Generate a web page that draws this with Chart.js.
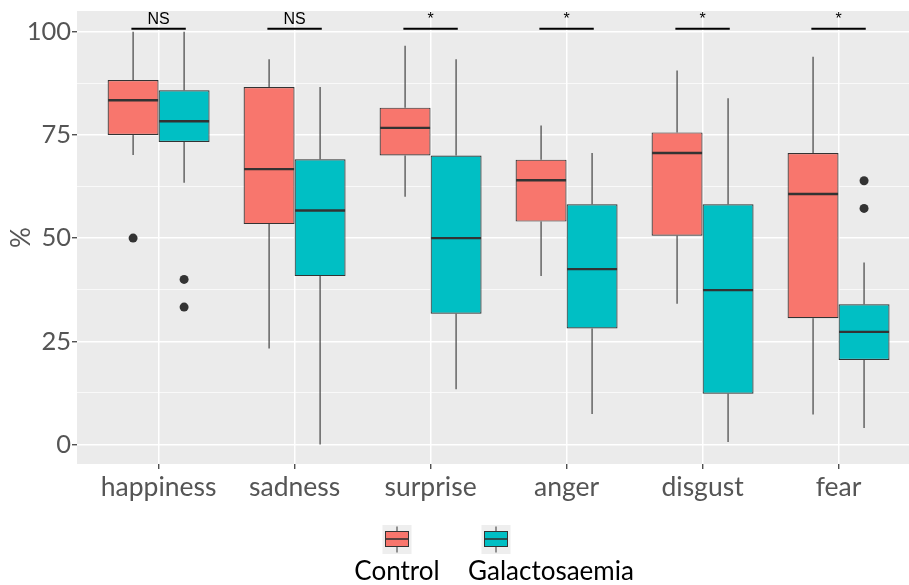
<!DOCTYPE html>
<html><head><meta charset="utf-8">
<script src="https://cdn.jsdelivr.net/npm/chart.js@4"></script>
<style>html,body{margin:0;padding:0;background:#fff;}canvas{display:block;}</style>
</head><body>
<canvas id="c" width="909" height="585"></canvas>
<script>
// ---- data ----
const categories = ['happiness', 'sadness', 'surprise', 'anger', 'disgust', 'fear'];
const seriesNames = ['Control', 'Galactosaemia'];
const seriesColors = ['#F8766D', '#00BFC4'];

const controlMin    = [70.1, 23.3, 60.0, 40.8, 34.1,  7.3];
const controlQ1     = [75.0, 53.4, 70.0, 54.0, 50.6, 30.6];
const controlMedian = [83.4, 66.7, 76.7, 64.0, 70.6, 60.7];
const controlQ3     = [88.3, 86.6, 81.6, 69.0, 75.6, 70.6];
const controlMax    = [100,  93.3, 96.6, 77.3, 90.6, 93.9];
const controlOutliers = [[50.0], [], [], [], [], []];

const galMin    = [63.4,  0.0, 13.4,  7.4,  0.6,  4.0];
const galQ1     = [73.3, 40.8, 31.7, 28.1, 12.3, 20.5];
const galMedian = [78.3, 56.7, 50.0, 42.5, 37.4, 27.3];
const galQ3     = [85.8, 69.1, 70.0, 58.2, 58.2, 34.0];
const galMax    = [100,  86.6, 93.3, 70.6, 83.9, 44.1];
const galOutliers = [[40.0, 33.3], [], [], [], [], [63.9, 57.2]];

const yTickValues = [0, 25, 50, 75, 100];
const sigLabels = ['NS', 'NS', '*', '*', '*', '*'];
const sigLevel = 100.7;

const series = [
  {min: controlMin, q1: controlQ1, med: controlMedian, q3: controlQ3, max: controlMax, out: controlOutliers},
  {min: galMin, q1: galQ1, med: galMedian, q3: galQ3, max: galMax, out: galOutliers}
];

const FONT = 'Lato, Carlito, "Open Sans", sans-serif';
const DARK = '#333333';

const bgPlugin = {
  id: 'panelBg',
  beforeDraw(chart) {
    const {ctx, chartArea: a} = chart;
    ctx.save();
    ctx.fillStyle = '#EBEBEB';
    ctx.fillRect(a.left, a.top, a.right - a.left, a.bottom - a.top);
    ctx.restore();
  }
};

const boxPlugin = {
  id: 'boxParts',
  beforeDatasetsDraw(chart) {
    const ctx = chart.ctx, ys = chart.scales.y;
    ctx.save();
    ctx.strokeStyle = DARK;
    ctx.lineWidth = 1.1;
    series.forEach((s, d) => {
      chart.getDatasetMeta(d).data.forEach((el, i) => {
        ctx.beginPath();
        ctx.moveTo(el.x, ys.getPixelForValue(s.max[i]));
        ctx.lineTo(el.x, ys.getPixelForValue(s.q3[i]));
        ctx.moveTo(el.x, ys.getPixelForValue(s.q1[i]));
        ctx.lineTo(el.x, ys.getPixelForValue(s.min[i]));
        ctx.stroke();
      });
    });
    ctx.restore();
  },
  afterDatasetsDraw(chart) {
    const ctx = chart.ctx, ys = chart.scales.y, xs = chart.scales.x;
    ctx.save();
    series.forEach((s, d) => {
      chart.getDatasetMeta(d).data.forEach((el, i) => {
        const half = el.width / 2;
        const my = ys.getPixelForValue(s.med[i]);
        ctx.strokeStyle = DARK;
        ctx.lineWidth = 2.4;
        ctx.beginPath();
        ctx.moveTo(el.x - half + 0.5, my);
        ctx.lineTo(el.x + half - 0.5, my);
        ctx.stroke();
        ctx.fillStyle = DARK;
        s.out[i].forEach(v => {
          ctx.beginPath();
          ctx.arc(el.x, ys.getPixelForValue(v), 4.5, 0, Math.PI * 2);
          ctx.fill();
        });
      });
    });
    // significance annotations
    const ly = ys.getPixelForValue(sigLevel);
    ctx.strokeStyle = '#000';
    ctx.fillStyle = '#000';
    ctx.lineWidth = 2;
    ctx.font = '16px "Liberation Sans", Arial, sans-serif';
    ctx.textAlign = 'center';
    ctx.textBaseline = 'alphabetic';
    sigLabels.forEach((lab, i) => {
      const x0 = xs.getPixelForValue(i + 1 - 0.2), x1 = xs.getPixelForValue(i + 1 + 0.2);
      ctx.beginPath();
      ctx.moveTo(x0, ly);
      ctx.lineTo(x1, ly);
      ctx.stroke();
      ctx.fillText(lab, xs.getPixelForValue(i + 1), ly - 5);
    });
    ctx.restore();
  },
  afterDraw(chart) {
    // legend
    const ctx = chart.ctx;
    const centers = [397, 496];
    const labelCenters = [397, 551];
    ctx.save();
    seriesNames.forEach((name, k) => {
      const cx = centers[k];
      ctx.fillStyle = '#EEEEEE';
      ctx.fillRect(cx - 14.5, 525, 29, 29);
      ctx.strokeStyle = DARK;
      ctx.lineWidth = 1;
      ctx.beginPath();
      ctx.moveTo(cx, 526.5); ctx.lineTo(cx, 531.5);
      ctx.moveTo(cx, 546.5); ctx.lineTo(cx, 552.5);
      ctx.stroke();
      ctx.fillStyle = seriesColors[k];
      ctx.fillRect(cx - 11.5, 531.5, 23, 15);
      ctx.strokeRect(cx - 11.5, 531.5, 23, 15);
      ctx.lineWidth = 1.6;
      ctx.beginPath();
      ctx.moveTo(cx - 11.5, 539); ctx.lineTo(cx + 11.5, 539);
      ctx.stroke();
      ctx.fillStyle = '#000';
      ctx.font = '26px ' + FONT;
      ctx.textAlign = 'center';
      ctx.textBaseline = 'middle';
      ctx.fillText(name, labelCenters[k], 572);
    });
    ctx.restore();
  }
};

function build() {
  const datasets = series.map((s, d) => ({
    label: seriesNames[d],
    data: categories.map((c, i) => ({x: i + 1, y: [s.q1[i], s.q3[i]]})),
    backgroundColor: seriesColors[d],
    borderColor: DARK,
    borderWidth: 1.2,
    borderSkipped: false,
    categoryPercentage: 0.75,
    barPercentage: 1.0
  }));

  new Chart(document.getElementById('c'), {
    type: 'bar',
    data: {datasets},
    options: {
      responsive: false,
      animation: false,
      devicePixelRatio: 1,
      layout: {padding: {top: 11, left: 0, right: 0, bottom: 0}},
      plugins: {legend: {display: false}, tooltip: {enabled: false}},
      scales: {
        x: {
          type: 'linear',
          min: 0.4,
          max: 6.518,
          offset: false,
          border: {display: false},
          grid: {color: '#FFFFFF', lineWidth: 1.5, tickColor: DARK, tickLength: 5, tickWidth: 1.2, offset: false},
          afterBuildTicks: s => { s.ticks = categories.map((c, i) => ({value: i + 1})); },
          afterFit: s => { s.height = 121; s.paddingLeft = 0; s.paddingRight = 0; },
          ticks: {
            autoSkip: false, maxRotation: 0, padding: 3,
            color: '#555555',
            font: {family: FONT, size: 26.5},
            callback: v => categories[Math.round(v) - 1] || ''
          }
        },
        y: {
          type: 'linear',
          min: -4.7,
          max: 105,
          border: {display: false},
          afterBuildTicks: s => {
            const t = [];
            yTickValues.forEach((v, i) => {
              t.push({value: v});
              if (i < yTickValues.length - 1) t.push({value: (v + yTickValues[i + 1]) / 2});
            });
            s.ticks = t;
          },
          afterFit: s => { s.width = 77; s.paddingTop = 0; s.paddingBottom = 0; },
          grid: {
            color: '#FFFFFF',
            lineWidth: c => (c.tick && yTickValues.includes(c.tick.value)) ? 1.5 : 0.7,
            tickColor: c => (c.tick && yTickValues.includes(c.tick.value)) ? DARK : 'rgba(0,0,0,0)',
            tickLength: 5,
            tickWidth: 1.2
          },
          ticks: {
            padding: 1,
            color: '#555555',
            font: {family: FONT, size: 25.5},
            callback: v => yTickValues.includes(v) ? String(v) : ''
          },
          title: {
            display: true, text: '%', color: '#555555',
            font: {family: FONT, size: 26},
            padding: {top: 6, bottom: 0}
          }
        }
      }
    },
    plugins: [bgPlugin, boxPlugin]
  });
}

if (document.fonts && document.fonts.load) {
  Promise.all([document.fonts.load('25px Lato'), document.fonts.load('16px "Liberation Sans"')])
    .then(build, build);
} else { build(); }
</script>
</body></html>
